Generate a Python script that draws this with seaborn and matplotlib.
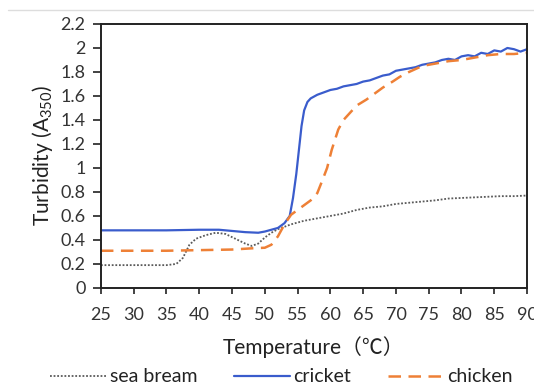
import matplotlib
matplotlib.use("Agg")
import matplotlib.pyplot as plt
from matplotlib.ticker import FuncFormatter, MultipleLocator
from matplotlib.lines import Line2D
import seaborn as sns
import pandas as pd

# Turbidity (A350) versus temperature for three protein sources
sea_bream_t = [25, 30, 35, 36.5, 37.5, 38.5, 39.5, 41, 42.5, 44, 45.5, 47, 48, 49, 50,
               51, 52, 54, 56, 58, 60, 62, 64, 66, 68, 70, 72, 74, 76, 78, 80, 82,
               84, 86, 88, 90]
sea_bream = [0.19, 0.19, 0.19, 0.20, 0.25, 0.36, 0.41, 0.44, 0.46, 0.45, 0.41, 0.37,
             0.35, 0.37, 0.42, 0.46, 0.49, 0.53, 0.56, 0.58, 0.60, 0.62, 0.65, 0.67,
             0.68, 0.70, 0.71, 0.72, 0.73, 0.745, 0.75, 0.755, 0.76, 0.765, 0.765, 0.77]

cricket_t = [25, 30, 35, 40, 43, 45, 47, 49, 50, 52, 53, 53.8, 54.3, 54.8, 55.2, 55.6,
             56, 56.5, 57, 58, 59, 60, 61, 62, 63, 64, 65, 66, 67, 68, 69, 70, 71, 72,
             73, 74, 75, 76, 77, 78, 79, 80, 81, 82, 83, 84, 85, 86, 87, 88, 89, 90]
cricket = [0.48, 0.48, 0.48, 0.485, 0.485, 0.475, 0.465, 0.46, 0.47, 0.50, 0.54, 0.60,
           0.75, 0.95, 1.15, 1.35, 1.48, 1.55, 1.58, 1.61, 1.63, 1.65, 1.66, 1.68, 1.69,
           1.70, 1.72, 1.73, 1.75, 1.77, 1.78, 1.81, 1.82, 1.83, 1.84, 1.86, 1.87, 1.88,
           1.90, 1.91, 1.90, 1.93, 1.94, 1.93, 1.96, 1.95, 1.98, 1.97, 2.00, 1.99, 1.97,
           1.99]

chicken_t = [25, 30, 35, 40, 45, 48, 50, 51, 52, 53, 54, 55, 56, 57, 58, 58.8, 59.5,
             60.2, 61.2, 62, 63, 64, 65.5, 67, 68, 69.5, 70.6, 72, 74, 76, 78, 80, 82,
             84, 86, 88, 90]
chicken = [0.31, 0.31, 0.31, 0.315, 0.32, 0.33, 0.335, 0.36, 0.43, 0.53, 0.61, 0.65,
           0.69, 0.73, 0.79, 0.90, 1.00, 1.15, 1.32, 1.40, 1.46, 1.52, 1.57, 1.63, 1.67,
           1.72, 1.76, 1.80, 1.85, 1.87, 1.89, 1.90, 1.92, 1.94, 1.95, 1.95, 1.96]

x_ticks = list(range(25, 91, 5))

sns.set_theme(style="white")
plt.rcParams["font.family"] = ["Lato", "Noto Sans CJK SC", "DejaVu Sans"]
plt.rcParams["mathtext.fontset"] = "custom"
plt.rcParams["mathtext.rm"] = "Lato"
plt.rcParams["mathtext.it"] = "Lato"

fig = plt.figure(figsize=(5.34, 3.87), dpi=100)
ax = fig.add_axes([0.189, 0.256, 0.798, 0.682])

series = [
    ("sea bream", sea_bream_t, sea_bream, dict(color="#5a5a5a", linestyle=(0, (1, 1)), linewidth=1.3)),
    ("cricket", cricket_t, cricket, dict(color="#3a5ccc", linestyle="-", linewidth=1.6)),
    ("chicken", chicken_t, chicken, dict(color="#ee8036", linestyle=(0, (5, 3)), linewidth=1.8)),
]
for name, t, v, style in series:
    df = pd.DataFrame({"Temperature": t, "Turbidity": v})
    sns.lineplot(data=df, x="Temperature", y="Turbidity", ax=ax, label=name,
                 estimator=None, sort=False, **style)

ax.set_xlim(25, 90)
ax.set_ylim(0, 2.2)
ax.set_xticks(x_ticks)
ax.yaxis.set_major_locator(MultipleLocator(0.2))
ax.yaxis.set_major_formatter(FuncFormatter(lambda v, p: f"{round(v, 1):g}"))
ax.tick_params(axis="both", direction="out", width=1.2, color="#222222",
               labelsize=13, labelcolor="#333333", left=True, bottom=True)
ax.tick_params(axis="y", length=6, pad=5)
ax.tick_params(axis="x", length=4, pad=10)
for s in ax.spines.values():
    s.set_color("#222222")
    s.set_linewidth(1.4)

ax.set_xlabel("Temperature（℃）", fontsize=15, color="#222222", labelpad=9)
ax.set_ylabel("Turbidity (A$_{350}$)", fontsize=15, color="#222222", labelpad=4)

ax.legend(loc="center", bbox_to_anchor=(0.424, -0.337), ncol=3, frameon=False,
          fontsize=14, handlelength=2.9, handletextpad=0.15, columnspacing=1.9,
          labelcolor="#222222")

fig.add_artist(Line2D([0.015, 1.0], [0.974, 0.974], color="#dddddd", linewidth=1,
                      transform=fig.transFigure))

fig.savefig("out.png", dpi=100, facecolor="white")
